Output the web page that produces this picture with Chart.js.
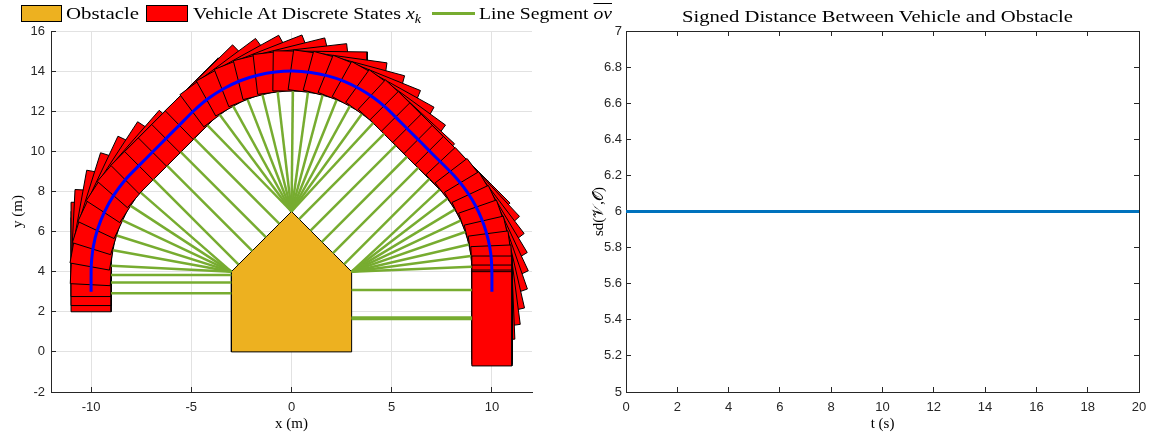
<!DOCTYPE html>
<html>
<head>
<meta charset="utf-8">
<script src="https://cdn.jsdelivr.net/npm/chart.js@4.4.0/dist/chart.umd.min.js"></script>
<style>
  body { margin: 0; background: #fff; width: 1155px; height: 436px; position: relative; overflow: hidden; }
  canvas { position: absolute; top: 0; }
  .lbl { position: absolute; font-family: 'Liberation Serif', serif; font-size: 17px; line-height: 17px; color: #000; white-space: nowrap; z-index: 2; transform-origin: left center; }
  .swatch { position: absolute; box-sizing: border-box; border: 1px solid #000; z-index: 2; }
  .seg { position: absolute; height: 3px; background: #77AC30; z-index: 2; }
  sub { font-size: 0.7em; font-style: italic; vertical-align: -0.3em; line-height: 0; }
  .ov { font-style: italic; text-decoration: overline; }
  #title { font-size: 16px; line-height: 16px; }
</style>
</head>
<body>
<canvas id="pathChart" width="545" height="436" style="left:0"></canvas>
<canvas id="sdChart" width="595" height="436" style="left:560px"></canvas>

<div class="swatch" style="left:21px;top:5px;width:41px;height:17px;background:#EDB120"></div>
<div class="lbl" id="lgObs" style="left:66px;top:5px">Obstacle</div>
<div class="swatch" style="left:146px;top:5px;width:42px;height:17px;background:#FF0000"></div>
<div class="lbl" id="lgVeh" style="left:193px;top:5px">Vehicle At Discrete States <i>x</i><sub>k</sub></div>
<div class="seg" style="left:432px;top:12px;width:43px"></div>
<div class="lbl" id="lgSeg" style="left:479px;top:5px">Line Segment <span class="ov">ov</span></div>
<div class="lbl" id="title" style="left:682px;top:9px">Signed Distance Between Vehicle and Obstacle</div>

<script>
// obstacle polygon (closed)
const obsX = [-3, 3, 3, 0, -3, -3]
const obsY = [0, 0, 4, 7, 4, 0]

// vehicle states x_k: rear axle position (m) and heading (deg)
const stateX = [-10, -10, -10, -9.99, -9.89, -9.68, -9.33, -8.86, -8.28, -7.60, -6.91, -6.23, -5.56,
  -4.89, -4.17, -3.39, -2.56, -1.69, -0.81, 0.08, 0.96, 1.81, 2.63, 3.39, 4.10, 4.74,
  5.33, 5.90, 6.47, 7.02, 7.58, 8.12, 8.57, 9.00, 9.34, 9.61, 9.82, 9.94, 9.99, 10, 10, 10, 10]
const stateY = [3, 3.31, 3.76, 4.35, 5.24, 6.10, 6.98, 7.83, 8.60, 9.30, 9.99, 10.67, 11.34,
  12.01, 12.62, 13.12, 13.52, 13.79, 13.95, 14.00, 13.93, 13.76, 13.49, 13.12, 12.67, 12.15,
  11.57, 11.00, 10.44, 9.88, 9.33, 8.78, 8.24, 7.61, 6.97, 6.30, 5.57, 4.91, 4.29, 3.78, 3.33, 3.08, 3.00]
const stateHeading = [90, 90, 90, 87.1, 79.8, 72.6, 64.8, 56.9, 48.9, 45, 45, 45, 45,
  44.3, 36.6, 29.0, 21.4, 14.0, 6.6, -0.7, -7.9, -15.0, -22.0, -29.0, -35.9, -42.7,
  -45, -45, -45, -45, -45, -47.0, -52.7, -59.0, -64.9, -70.8, -77.0, -82.5, -87.6, -90, -90, -90, -90]

// closest-point segments o -> v for each state
const segObsX = [-3, -3, -3, -3, -3, -3, -3, -3, -3, -2.65, -1.96, -1.28, -0.61,
  0, 0, 0, 0, 0, 0, 0, 0, 0, 0, 0, 0, 0,
  0.38, 0.95, 1.52, 2.07, 2.63, 3, 3, 3, 3, 3, 3, 3, 3, 3, 3, 3, 3]
const segObsY = [2.93, 3.46, 3.84, 4, 4, 4, 4, 4, 4, 4.36, 5.04, 5.72, 6.39,
  7, 7, 7, 7, 7, 7, 7, 7, 7, 7, 7, 7, 7,
  6.62, 6.05, 5.49, 4.93, 4.38, 4, 4, 4, 4, 4, 4, 4, 4, 3.09, 1.72, 1.68, 1.64]
const segVehX = [-9, -9, -9, -8.99, -8.90, -8.72, -8.43, -8.02, -7.52, -6.89, -6.20, -5.52, -4.85,
  -4.19, -3.58, -2.91, -2.19, -1.45, -0.69, 0.07, 0.82, 1.55, 2.25, 2.91, 3.51, 4.07,
  4.62, 5.19, 5.76, 6.32, 6.87, 7.39, 7.77, 8.14, 8.43, 8.67, 8.85, 8.95, 8.99, 9, 9, 9, 9]
const segVehY = [2.93, 3.46, 3.84, 4.30, 5.07, 5.80, 6.56, 7.28, 7.94, 8.60, 9.28, 9.96, 10.63,
  11.30, 11.82, 12.25, 12.58, 12.82, 12.96, 13.00, 12.94, 12.80, 12.56, 12.25, 11.86, 11.41,
  10.87, 10.29, 9.73, 9.17, 8.62, 8.09, 7.64, 7.09, 6.55, 5.98, 5.35, 4.78, 4.25, 3.09, 1.72, 1.68, 1.64]

// signed distance over time
const timeS = [0, 0.5, 1, 1.5, 2, 2.5, 3, 3.5, 4, 4.5, 5, 5.5, 6, 6.5, 7, 7.5, 8, 8.5, 9, 9.5, 10,
  10.5, 11, 11.5, 12, 12.5, 13, 13.5, 14, 14.5, 15, 15.5, 16, 16.5, 17, 17.5, 18, 18.5, 19, 19.5, 20]
const sdValues = [6, 6, 6, 6, 6, 6, 6, 6, 6, 6, 6, 6, 6, 6, 6, 6, 6, 6, 6, 6, 6,
  6, 6, 6, 6, 6, 6, 6, 6, 6, 6, 6, 6, 6, 6, 6, 6, 6, 6, 6, 6]

// vehicle footprint relative to rear axle
const REAR = 1
const FRONT = 3.7
const HALF_W = 1

const AXIS_COLOR = '#262626'
const tickFont = { family: 'Liberation Sans', size: 13 }
const titleFont = { family: 'Liberation Serif', size: 15 }

function vehicleOutline (x, y, deg) {
  const a = deg * Math.PI / 180
  const fx = Math.cos(a)
  const fy = Math.sin(a)
  const corners = [[-REAR, HALF_W], [FRONT, HALF_W], [FRONT, -HALF_W], [-REAR, -HALF_W], [-REAR, HALF_W]]
  return corners.map(([l, w]) => ({ x: x + l * fx - w * fy, y: y + l * fy + w * fx }))
}

const pathDatasets = []

pathDatasets.push({
  data: obsX.map((x, i) => ({ x, y: obsY[i] })),
  showLine: true,
  fill: 'shape',
  backgroundColor: '#EDB120',
  borderColor: '#000',
  borderWidth: 1,
  order: 1000
})

stateX.forEach((x, k) => {
  pathDatasets.push({
    data: vehicleOutline(x, stateY[k], stateHeading[k]),
    showLine: true,
    fill: 'shape',
    backgroundColor: '#FF0000',
    borderColor: '#000',
    borderWidth: 1,
    borderJoinStyle: 'miter',
    order: 500 - k
  })
})

segObsX.forEach((x, k) => {
  pathDatasets.push({
    data: [{ x, y: segObsY[k] }, { x: segVehX[k], y: segVehY[k] }],
    showLine: true,
    borderColor: '#77AC30',
    borderWidth: 2.5,
    borderCapStyle: 'butt',
    order: 100
  })
})

pathDatasets.push({
  data: stateX.map((x, k) => ({ x, y: stateY[k] })),
  showLine: true,
  borderColor: '#0000FF',
  borderWidth: 3,
  tension: 0.2,
  order: 0
})

// MATLAB-style axis: inward ticks, no label overflow padding
function axis (min, max, step, pad, extra) {
  return Object.assign({
    type: 'linear',
    min,
    max,
    ticks: {
      stepSize: step,
      includeBounds: false,
      color: AXIS_COLOR,
      font: tickFont,
      padding: pad,
      callback: v => String(Math.round(v * 10) / 10)
    },
    grid: { drawOnChartArea: false, tickColor: AXIS_COLOR, tickLength: -5 },
    border: { color: AXIS_COLOR, width: 1 }
  }, extra)
}

function fixSize (w, h) {
  return s => {
    if (w !== null) s.width = w
    if (h !== null) s.height = h
    s.paddingLeft = 0
    s.paddingRight = 0
    s.paddingTop = 0
    s.paddingBottom = 0
  }
}

const baseOptions = {
  responsive: false,
  animation: false,
  events: [],
  elements: { point: { radius: 0 } },
  plugins: { legend: { display: false }, tooltip: { enabled: false } }
}

const gridOn = { color: '#e2e2e2', tickColor: AXIS_COLOR, tickLength: -5 }

new Chart(document.getElementById('pathChart'), {
  type: 'scatter',
  data: { datasets: pathDatasets },
  options: Object.assign({}, baseOptions, {
    layout: { padding: { top: 31, right: 13, left: 0, bottom: 0 } },
    scales: {
      x: axis(-12, 12, 5, 13, {
        grid: gridOn,
        title: { display: true, text: 'x (m)', color: '#000', font: titleFont, padding: { top: 0, bottom: 3 } },
        afterFit: fixSize(null, 44)
      }),
      y: axis(-2, 16, 2, 11, {
        grid: gridOn,
        title: { display: true, text: 'y (m)', color: '#000', font: titleFont, padding: { top: 9, bottom: 0 } },
        afterFit: fixSize(51, null)
      })
    }
  })
})

new Chart(document.getElementById('sdChart'), {
  type: 'scatter',
  data: {
    datasets: [{
      data: timeS.map((t, i) => ({ x: t, y: sdValues[i] })),
      showLine: true,
      borderColor: '#0072BD',
      borderWidth: 3
    }]
  },
  options: Object.assign({}, baseOptions, {
    layout: { padding: { top: 31, right: 16, left: 0, bottom: 0 } },
    scales: {
      x: axis(0, 20, 2, 13, {
        title: { display: true, text: 't (s)', color: '#000', font: titleFont, padding: { top: 0, bottom: 3 } },
        afterFit: fixSize(null, 44)
      }),
      y: axis(5, 7, 0.2, 9, {
        title: { display: true, text: 'sd(𝒱,𝒪)', color: '#000', font: titleFont, padding: { top: 30, bottom: 0 } },
        afterFit: fixSize(66, null)
      }),
      x2: axis(0, 20, 2, 0, {
        position: 'top',
        ticks: { display: false, stepSize: 2 },
        afterFit: fixSize(null, 0)
      }),
      y2: axis(5, 7, 0.2, 0, {
        position: 'right',
        ticks: { display: false, stepSize: 0.2 },
        afterFit: fixSize(0, null)
      })
    }
  })
})

// stretch serif text horizontally to the measured widths
function fitWidth (id, width) {
  const el = document.getElementById(id)
  const natural = el.getBoundingClientRect().width
  el.style.transform = 'scaleX(' + (width / natural) + ')'
}
fitWidth('lgObs', 73)
fitWidth('lgVeh', 228)
fitWidth('lgSeg', 133)
fitWidth('title', 391)
</script>
</body>
</html>
